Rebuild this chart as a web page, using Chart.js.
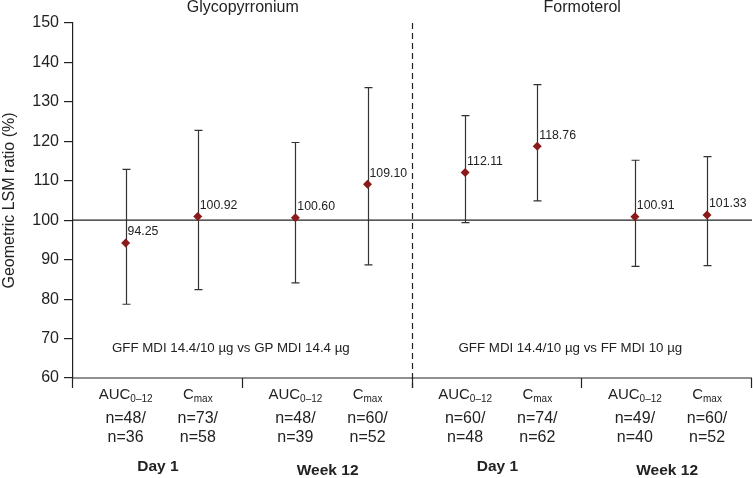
<!DOCTYPE html>
<html>
<head>
<meta charset="utf-8">
<script src="https://cdn.jsdelivr.net/npm/chart.js@4/dist/chart.umd.min.js"></script>
<style>
  html, body { margin: 0; padding: 0; background: #fff; }
  #wrap { width: 753px; height: 478px; }
</style>
</head>
<body>
<div id="wrap"><canvas id="myChart"></canvas></div>
<script>
// data
const panels = ['Glycopyrronium', 'Formoterol']
const comparisons = ['GFF MDI 14.4/10 µg vs GP MDI 14.4 µg', 'GFF MDI 14.4/10 µg vs FF MDI 10 µg']
const visits = ['Day 1', 'Week 12', 'Day 1', 'Week 12']
const measures = ['AUC', 'C', 'AUC', 'C', 'AUC', 'C', 'AUC', 'C']
const measureSubs = ['0–12', 'max', '0–12', 'max', '0–12', 'max', '0–12', 'max']
const nTop = ['n=48/', 'n=73/', 'n=48/', 'n=60/', 'n=60/', 'n=74/', 'n=49/', 'n=60/']
const nBottom = ['n=36', 'n=58', 'n=39', 'n=52', 'n=48', 'n=62', 'n=40', 'n=52']
const lsmRatio = [94.25, 100.92, 100.60, 109.10, 112.11, 118.76, 100.91, 101.33]
const ciLow = [78.7, 82.4, 84.1, 88.7, 99.4, 104.9, 88.3, 88.5]
const ciHigh = [112.9, 122.8, 119.7, 133.6, 126.5, 134.4, 115.2, 116.1]
const yTicks = [60, 70, 80, 90, 100, 110, 120, 130, 140, 150]

const FONT = '"Liberation Sans", Arial, Helvetica, sans-serif'
const INK = '#222'

// each visit is one unit wide on x; the two measures sit inside it
function xFor(i)
{
  return Math.floor(i / 2) + (i % 2 ? 0.735 : 0.31)
}

const points = lsmRatio.map(function(v, i){ return { x: xFor(i), y: v } })

const extras = {
  id: 'extras',
  beforeDatasetsDraw: function(chart)
  {
    const ctx = chart.ctx
    const x = chart.scales.x
    const y = chart.scales.y
    const area = chart.chartArea
    ctx.save()
    ctx.strokeStyle = INK
    ctx.lineWidth = 1.2

    // reference line at 100
    ctx.beginPath()
    ctx.moveTo(area.left, y.getPixelForValue(100))
    ctx.lineTo(area.right, y.getPixelForValue(100))
    ctx.stroke()

    // bottom axis with group ticks
    ctx.beginPath()
    ctx.moveTo(area.left, area.bottom)
    ctx.lineTo(area.right, area.bottom)
    for (let g = 0; g <= visits.length; g++) {
      const gx = Math.round(x.getPixelForValue(g)) - 0.5
      ctx.moveTo(gx, area.bottom)
      ctx.lineTo(gx, area.bottom + 10)
    }
    ctx.stroke()

    // dashed divider between panels
    const mid = Math.round(x.getPixelForValue(2)) - 0.5
    ctx.setLineDash([6, 4])
    ctx.beginPath()
    ctx.moveTo(mid, area.top)
    ctx.lineTo(mid, area.bottom + 10)
    ctx.stroke()
    ctx.setLineDash([])

    // confidence interval bars
    ctx.strokeStyle = '#333'
    points.forEach(function(p, i){
      const px = Math.round(x.getPixelForValue(p.x)) + 0.5
      const lo = y.getPixelForValue(ciLow[i])
      const hi = y.getPixelForValue(ciHigh[i])
      ctx.beginPath()
      ctx.moveTo(px, lo)
      ctx.lineTo(px, hi)
      ctx.moveTo(px - 4, lo)
      ctx.lineTo(px + 4, lo)
      ctx.moveTo(px - 4, hi)
      ctx.lineTo(px + 4, hi)
      ctx.stroke()
    })
    ctx.restore()
  },
  afterDatasetsDraw: function(chart)
  {
    const ctx = chart.ctx
    const x = chart.scales.x
    const y = chart.scales.y
    const area = chart.chartArea
    ctx.save()
    ctx.fillStyle = INK

    // value labels
    ctx.font = '12.3px ' + FONT
    ctx.textAlign = 'left'
    ctx.textBaseline = 'middle'
    points.forEach(function(p, i){
      ctx.fillText(lsmRatio[i].toFixed(2), x.getPixelForValue(p.x) + 2, y.getPixelForValue(p.y) - 11)
    })

    // panel titles
    ctx.font = '16px ' + FONT
    ctx.textAlign = 'center'
    ctx.fillText(panels[0], x.getPixelForValue(1), 8)
    ctx.fillText(panels[1], x.getPixelForValue(3), 8)

    // comparison notes
    ctx.font = '13.3px ' + FONT
    ctx.fillText(comparisons[0], x.getPixelForValue(0.93), y.getPixelForValue(67.6))
    ctx.fillText(comparisons[1], x.getPixelForValue(2.93), y.getPixelForValue(67.6))

    // category labels under the axis
    points.forEach(function(p, i){
      const cx = x.getPixelForValue(p.x)
      ctx.font = '15px ' + FONT
      const w1 = ctx.measureText(measures[i]).width
      ctx.font = '10px ' + FONT
      const w2 = ctx.measureText(measureSubs[i]).width
      const start = cx - (w1 + w2) / 2
      ctx.textAlign = 'left'
      ctx.font = '15px ' + FONT
      ctx.fillText(measures[i], start, area.bottom + 17)
      ctx.font = '10px ' + FONT
      ctx.fillText(measureSubs[i], start + w1, area.bottom + 21)

      ctx.textAlign = 'center'
      ctx.font = '16px ' + FONT
      ctx.fillText(nTop[i], cx, area.bottom + 41)
      ctx.fillText(nBottom[i], cx, area.bottom + 60)
    })

    ctx.font = 'bold 15.5px ' + FONT
    visits.forEach(function(v, g){
      ctx.fillText(v, x.getPixelForValue(g + 0.5), area.bottom + (g % 2 ? 93 : 89))
    })
    ctx.restore()
  }
}

const ctx = document.getElementById('myChart').getContext('2d')
const chart = new Chart(ctx, {
  type: 'scatter',
  data: {
    datasets: [{
      data: points,
      pointStyle: 'rectRot',
      pointRadius: 4.5,
      backgroundColor: '#8b1a1a',
      borderColor: '#8b1a1a',
      borderWidth: 0
    }]
  },
  options: {
    responsive: true,
    maintainAspectRatio: false,
    animation: false,
    layout: { autoPadding: false, padding: { top: 23, left: 0, right: 1, bottom: 100 } },
    plugins: {
      legend: { display: false },
      tooltip: { enabled: false }
    },
    scales: {
      x: { type: 'linear', min: 0, max: visits.length, display: false },
      y: {
        min: yTicks[0],
        max: yTicks[yTicks.length - 1],
        afterBuildTicks: function(scale){ scale.ticks = yTicks.map(function(v){ return { value: v } }) },
        afterFit: function(scale){ scale.width = 73 },
        ticks: { color: INK, padding: 5, font: { size: 16, family: FONT } },
        grid: { drawOnChartArea: false, drawTicks: true, tickLength: 9, color: INK, lineWidth: 1.2 },
        border: { display: true, color: INK, width: 1.2 },
        title: {
          display: true,
          text: 'Geometric LSM ratio (%)',
          color: INK,
          padding: 0,
          font: { size: 16, family: FONT }
        }
      }
    }
  },
  plugins: [extras]
})
</script>
</body>
</html>
